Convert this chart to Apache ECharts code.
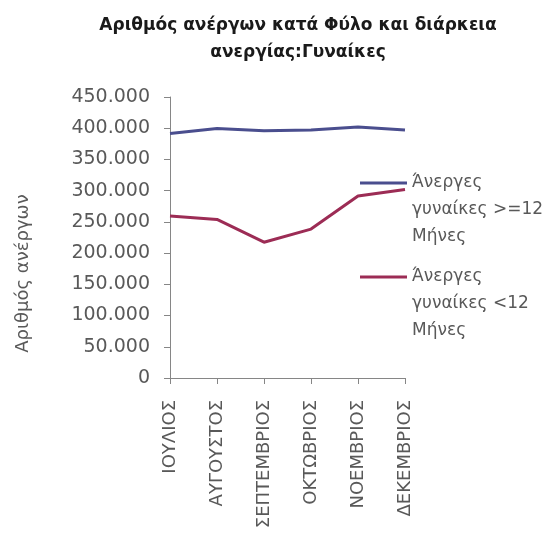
<!DOCTYPE html>
<html><head><meta charset="utf-8">
<script src="https://cdn.jsdelivr.net/npm/echarts@6/dist/echarts.min.js"></script>
<style>html,body{margin:0;padding:0;background:#fff}#c{width:555px;height:533px}</style>
</head><body><div id="c"></div>
<script>
var titleText = 'Αριθμός ανέργων κατά Φύλο και διάρκεια\nανεργίας:Γυναίκες';
var yAxisName = 'Αριθμός ανέργων';
var months = ['ΙΟΥΛΙΟΣ','ΑΥΓΟΥΣΤΟΣ','ΣΕΠΤΕΜΒΡΙΟΣ','ΟΚΤΩΒΡΙΟΣ','ΝΟΕΜΒΡΙΟΣ','ΔΕΚΕΜΒΡΙΟΣ'];
var seriesNames = ['Άνεργες γυναίκες >=12 Μήνες','Άνεργες γυναίκες <12 Μήνες'];
var legendLabels = ['Άνεργες\nγυναίκες >=12\nΜήνες','Άνεργες\nγυναίκες <12\nΜήνες'];
var longTerm = [391500, 399500, 396000, 397000, 402000, 397000];
var shortTerm = [259500, 254000, 217500, 238500, 291500, 302000];
var yTicks = [0, 50000, 100000, 150000, 200000, 250000, 300000, 350000, 400000, 450000];

function fmt(v){ return String(v).replace(/\B(?=(\d{3})+(?!\d))/g,'.'); }
var font = 'DejaVu Sans';
var txt = '#595959';
var axisCol = '#868686';
var colors = ['#4a4e8e', '#9c2c55'];
var lh = 27;

var chart = echarts.init(document.getElementById('c'));
function legendFor(i, center){
  return {
    data: [seriesNames[i]], left: 360, top: center - 2.5 * lh, padding: 0,
    icon: 'rect', itemWidth: 47, itemHeight: 3,
    formatter: function(){ return ' \n \n' + legendLabels[i]; },
    textStyle: { fontFamily: font, fontSize: 17, color: txt, lineHeight: lh },
    selectedMode: false
  };
}
chart.setOption({
  animation: false,
  title: {
    text: titleText, left: 298, textAlign: 'center', top: 12, padding: 0,
    textStyle: { fontFamily: font, fontSize: 17, fontWeight: 'bold', color: '#1a1a1a', lineHeight: 27 }
  },
  legend: [legendFor(0, 183), legendFor(1, 277)],
  grid: { left: 170, top: 97, right: 150, bottom: 155, containLabel: false },
  xAxis: {
    type: 'category', data: months, boundaryGap: false,
    axisLine: { lineStyle: { color: axisCol, width: 1 } },
    axisTick: { show: true, length: 6, alignWithLabel: true, lineStyle: { color: axisCol } },
    axisLabel: { rotate: 90, margin: 22, fontFamily: font, fontSize: 18, color: txt, interval: 0 },
    splitLine: { show: false }
  },
  yAxis: {
    type: 'value', min: yTicks[0], max: yTicks[yTicks.length-1], interval: yTicks[1]-yTicks[0],
    name: yAxisName, nameLocation: 'middle', nameGap: 138, nameRotate: 90,
    nameTextStyle: { fontFamily: font, fontSize: 18, color: txt, padding: [0,72,0,0] },
    axisLine: { show: true, lineStyle: { color: axisCol, width: 1 } },
    axisTick: { show: true, length: 6, lineStyle: { color: axisCol } },
    axisLabel: { margin: 20, fontFamily: font, fontSize: 19, color: txt, formatter: fmt },
    splitLine: { show: false }
  },
  series: [
    { name: seriesNames[0], type: 'line', data: longTerm, symbol: 'none', color: colors[0], lineStyle: { width: 3, color: colors[0] } },
    { name: seriesNames[1], type: 'line', data: shortTerm, symbol: 'none', color: colors[1], lineStyle: { width: 3, color: colors[1] } }
  ]
});
</script></body></html>
